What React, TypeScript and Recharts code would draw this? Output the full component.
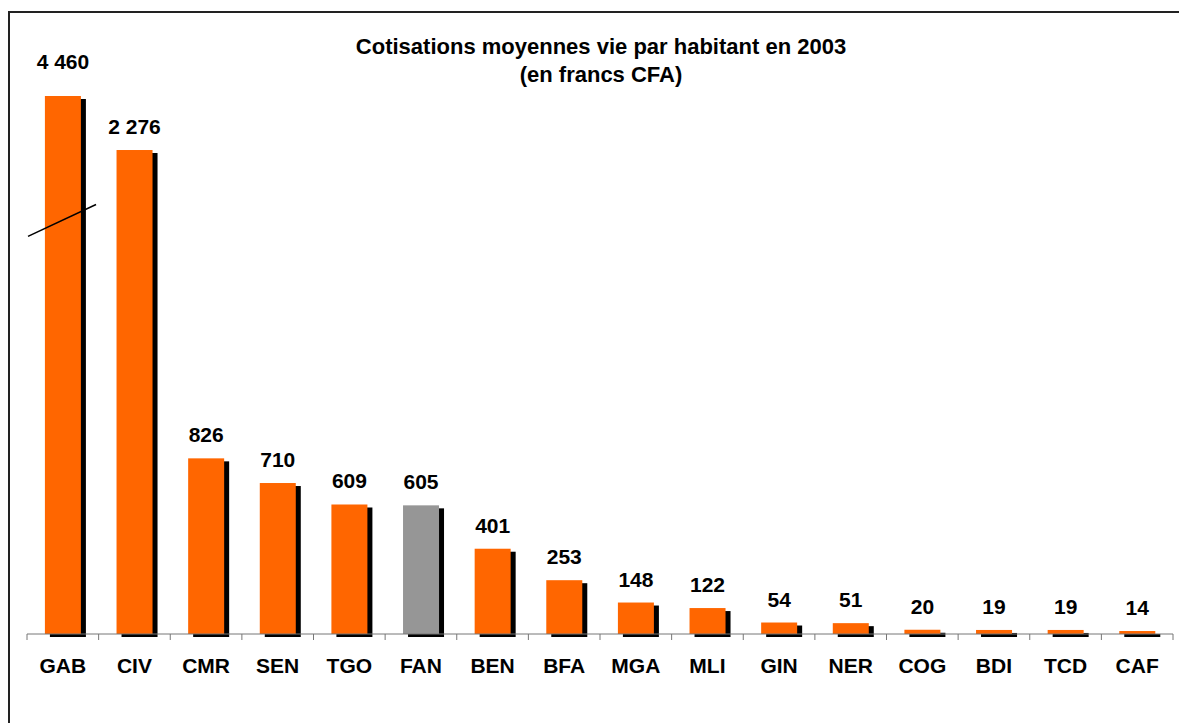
import { BarChart, Bar, XAxis, YAxis, LabelList } from 'recharts'

const countries = ['GAB', 'CIV', 'CMR', 'SEN', 'TGO', 'FAN', 'BEN', 'BFA', 'MGA', 'MLI', 'GIN', 'NER', 'COG', 'BDI', 'TCD', 'CAF']
const cotisations = [4460, 2276, 826, 710, 609, 605, 401, 253, 148, 122, 54, 51, 20, 19, 19, 14]
const highlighted = ['FAN']
const titleLines = ['Cotisations moyennes vie par habitant en 2003', '(en francs CFA)']

// axis is cut: GAB goes off the scale and gets a break mark
const axisMax = 2530
const breakRange = [1870, 2020]

const data = countries.map((code, i) => ({ code, value: cotisations[i] }))

const W = 1179
const H = 723
const MARGIN = { top: 96, right: 6, bottom: 39, left: 27 }
const BAND = (W - MARGIN.left - MARGIN.right) / countries.length
const FONT = '"Liberation Sans", Arial, sans-serif'
const ORANGE = '#FF6600'
const GREY = '#969696'

const fmt = (v: number) => String(v).replace(/\B(?=(\d{3})+(?!\d))/g, ' ')

function ShadowBar(props: any) {
  const { x, y, width, height, payload, value } = props
  const plotTop = props.background?.y ?? MARGIN.top
  const base = y + height
  const top = Math.max(y, plotTop)
  const h = base - top
  const clipped = y < plotTop
  const fill = highlighted.includes(payload.code) ? GREY : ORANGE
  const v = Array.isArray(value) ? value[1] : value
  const ppu = height / v
  return (
    <g>
      <rect x={x + 5} y={top + 3} width={width} height={h} fill="#000" />
      <rect x={x} y={top} width={width} height={h} fill={fill} />
      {clipped && (
        <line
          x1={x - 0.47 * width}
          y1={base - breakRange[0] * ppu}
          x2={x + 1.42 * width}
          y2={base - breakRange[1] * ppu}
          stroke="#000"
          strokeWidth={1.5}
        />
      )}
    </g>
  )
}

function ValueLabel(props: any) {
  const { x, y, width, value } = props
  const clipped = y < MARGIN.top
  const top = Math.max(y, MARGIN.top)
  return (
    <text
      x={x + width / 2}
      y={clipped ? top - 27 : top - 16}
      textAnchor="middle"
      fontFamily={FONT}
      fontWeight="bold"
      fontSize={21}
      fill="#000"
    >
      {fmt(value)}
    </text>
  )
}

function CountryTick(props: any) {
  const { x, y, payload, index } = props
  const axisY = y - 6
  return (
    <g>
      <line x1={x - BAND / 2} y1={axisY} x2={x - BAND / 2} y2={axisY + 6} stroke="#777" />
      {index === countries.length - 1 && (
        <line x1={x + BAND / 2} y1={axisY} x2={x + BAND / 2} y2={axisY + 6} stroke="#777" />
      )}
      <text x={x} y={axisY + 39} textAnchor="middle" fontFamily={FONT} fontWeight="bold" fontSize={21} fill="#000">
        {payload.value}
      </text>
    </g>
  )
}

export default function App() {
  return (
    <div style={{ position: 'absolute', left: 0, top: 0, width: W, height: H, background: '#fff', overflow: 'hidden' }}>
      <style>{'.recharts-layer, .recharts-bar { clip-path: none !important; }'}</style>
      <div
        style={{
          position: 'absolute',
          left: 8,
          top: 11,
          width: W,
          height: H,
          borderTop: '2px solid #222',
          borderLeft: '2px solid #222',
        }}
      />
      <div
        style={{
          position: 'absolute',
          left: 601 - 400,
          top: 33,
          width: 800,
          textAlign: 'center',
          fontFamily: FONT,
          fontWeight: 'bold',
          fontSize: 22,
          lineHeight: '28px',
          color: '#000',
        }}
      >
        {titleLines.map((t) => (
          <div key={t}>{t}</div>
        ))}
      </div>
      <div style={{ position: 'absolute', left: 0, top: 0 }}>
        <BarChart width={W} height={H} data={data} margin={MARGIN} barCategoryGap="25%">
          <XAxis
            dataKey="code"
            height={50}
            tickLine={false}
            tickSize={6}
            tickMargin={0}
            axisLine={{ stroke: '#777' }}
            tick={<CountryTick />}
            interval={0}
          />
          <YAxis hide domain={[0, axisMax]} allowDataOverflow />
          <Bar dataKey="value" shape={<ShadowBar />} isAnimationActive={false}>
            <LabelList dataKey="value" content={<ValueLabel />} />
          </Bar>
        </BarChart>
      </div>
    </div>
  )
}
